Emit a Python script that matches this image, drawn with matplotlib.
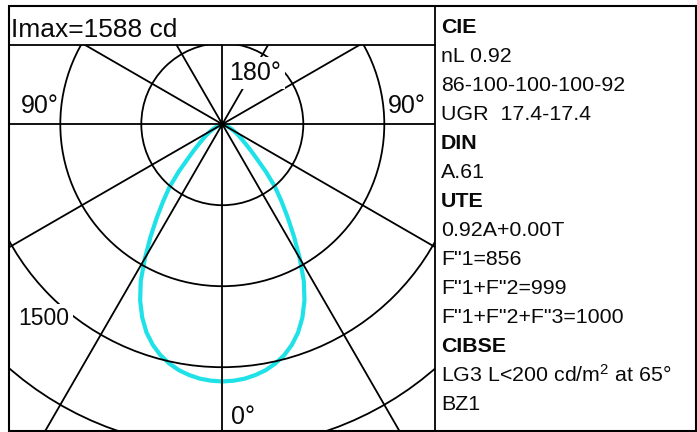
import numpy as np
import matplotlib
matplotlib.use("Agg")
import matplotlib.pyplot as plt
from matplotlib.patches import Circle, Rectangle
from matplotlib.lines import Line2D

plt.rcParams['font.family'] = ['Liberation Sans', 'DejaVu Sans']
plt.rcParams['mathtext.default'] = 'regular'

# ---------------- data ----------------
gamma_deg = [0, 2.5, 5, 7.5, 10, 12.5, 15, 17.5, 20, 22.5, 25, 27.5, 30, 32.5,
             35, 37.5, 40, 42.5, 45, 47.5, 50, 52.5, 55, 57.5, 60, 62.5, 65,
             67.5, 70, 72.5, 75, 77.5, 80, 82.5, 85, 87.5, 90]
intensity_cd = [1588, 1585, 1577, 1562, 1542, 1513, 1476, 1428, 1368, 1292,
                1200, 1090, 955, 825, 705, 600, 508, 400, 300, 235, 185, 150,
                125, 100, 80, 62, 45, 32, 22, 14, 9, 5, 3, 2, 1, 0, 0]
grid_radii = [500, 1000, 1500, 2000, 2500]
grid_angles = list(range(0, 360, 30))
imax_label = "Imax=1588 cd"
ring_label = "1500"
angle_labels = {"left": "90°", "right": "90°", "top": "180°", "bottom": "0°"}
info_lines = [
    ("CIE", True), ("nL 0.92", False), ("86-100-100-100-92", False),
    ("UGR  17.4-17.4", False), ("DIN", True), ("A.61", False),
    ("UTE", True), ("0.92A+0.00T", False), ('F"1=856', False),
    ('F"1+F"2=999', False), ('F"1+F"2+F"3=1000', False), ("CIBSE", True),
    ("LG3 L<200 cd/m$^2$ at 65°", False), ("BZ1", False),
]

# ---------------- layout ----------------
W, H = 697, 432
fig = plt.figure(figsize=(W / 100, H / 100), dpi=100)
fig.patch.set_facecolor('white')

def fx(x):
    return x / W

def fy(y):
    return 1 - y / H

left_px, right_px, top_px, bot_px = 9, 435, 45, 430.5
cx, cy = 222.3, 124.2
k = 81.0 / 500.0  # px per cd

ax = fig.add_axes([fx(left_px), fy(bot_px), (right_px - left_px) / W,
                   (bot_px - top_px) / H])
ax.set_xlim((left_px - cx) / k, (right_px - cx) / k)
ax.set_ylim(-(bot_px - cy) / k, (cy - top_px) / k)
ax.axis('off')

g = np.radians(np.array(gamma_deg))
I = np.array(intensity_cd, dtype=float)
xs = np.concatenate([-(I * np.sin(g))[::-1], (I * np.sin(g))[1:]])
ys = np.concatenate([-(I * np.cos(g))[::-1], -(I * np.cos(g))[1:]])
ax.plot(xs, ys, color='#1FE2E8', lw=3.0, solid_joinstyle='round',
        solid_capstyle='round', zorder=2)

for r in grid_radii:
    ax.add_patch(Circle((0, 0), r, fill=False, ec='black', lw=1.3, zorder=3))
for a in grid_angles:
    t = np.radians(a)
    ax.plot([0, 4000 * np.sin(t)], [0, -4000 * np.cos(t)], color='black',
            lw=1.3, zorder=3)

# labels in the diagram
lab_kw = dict(color='#0A0A0A', ha='left', va='baseline')
box = dict(boxstyle='square,pad=0.15', fc='white', ec='none')
fig.text(fx(10.6), fy(36.7), imax_label, fontsize=19, **lab_kw)
fig.text(fx(20.5), fy(113.5), angle_labels['left'], fontsize=18, **lab_kw)
fig.text(fx(388.0), fy(113.5), angle_labels['right'], fontsize=18, **lab_kw)
fig.text(fx(229.5), fy(80), angle_labels['top'], fontsize=18, bbox=box, **lab_kw)
fig.text(fx(230.5), fy(423.5), angle_labels['bottom'], fontsize=18, **lab_kw)
fig.text(fx(18.5), fy(325), ring_label, fontsize=16.5, bbox=box, **lab_kw)

# info panel
for i, (txt, bold) in enumerate(info_lines):
    fig.text(fx(441), fy(33.3 + 29.0 * i), txt, fontsize=15.4,
             fontweight='bold' if bold else 'normal', color='#0A0A0A',
             ha='left', va='baseline')

# frame lines
fig.add_artist(Rectangle((fx(9), fy(430.5)), fx(696) - fx(9),
                         fy(5.5) - fy(430.5), transform=fig.transFigure,
                         fill=False, ec='black', lw=1.5, zorder=10))
fig.add_artist(Line2D([fx(9), fx(435)], [fy(45), fy(45)],
                      transform=fig.transFigure, color='black', lw=1.3,
                      zorder=10))
fig.add_artist(Line2D([fx(435), fx(435)], [fy(5.5), fy(430.5)],
                      transform=fig.transFigure, color='black', lw=1.3,
                      zorder=10))

fig.savefig('out.png', dpi=100, facecolor='white')
